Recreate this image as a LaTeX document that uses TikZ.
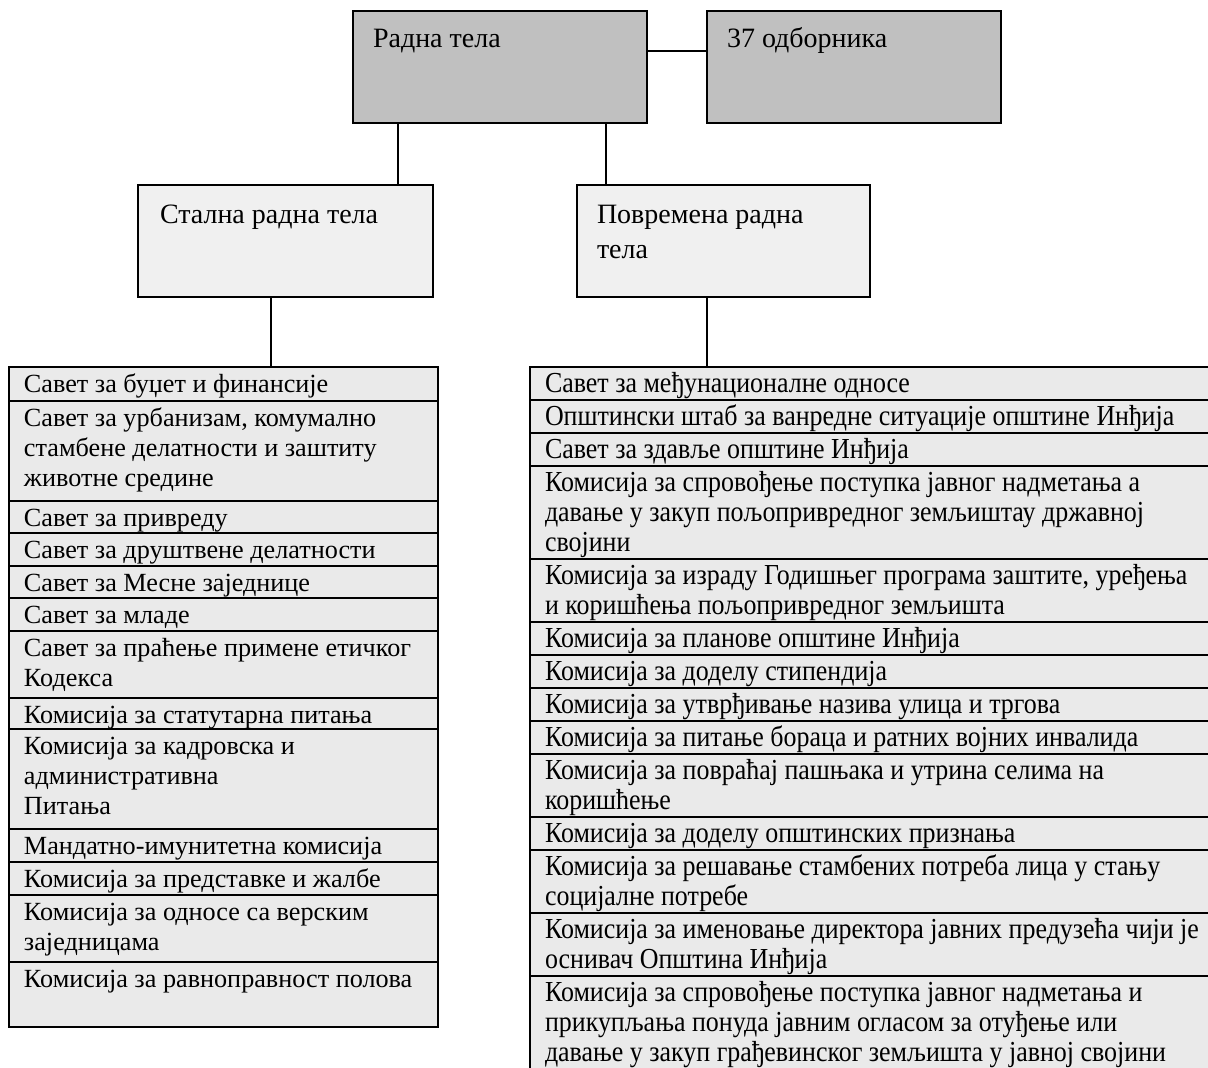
\documentclass[tikz,border=0pt]{standalone}
\usepackage{fontspec}
\setmainfont{Liberation Serif}
\newfontfamily\narrowserif[FakeStretch=0.895]{Liberation Serif}
\usepackage{xcolor}
\usepackage{tikz}
\usetikzlibrary{positioning}

\definecolor{topgray}{HTML}{C0C0C0}
\definecolor{midgray}{HTML}{F0F0F0}
\definecolor{rowgray}{HTML}{EAEAEA}

% text block of a cell: width, height, first baseline, text
\newcommand{\cellpar}[4]{\parbox[t][#2][t]{#1}{\raggedright\rule{0pt}{#3}#4}}
\newcommand{\lrow}[2]{\cellpar{199.5pt}{#1}{12.5pt}{#2}}
\newcommand{\rrow}[2]{\cellpar{400pt}{#1}{12.5pt}{#2}}

\tikzset{
  topbox/.style={draw, line width=0.8pt, fill=topgray, anchor=north west,
    inner xsep=10pt, inner ysep=0pt, outer sep=0pt,
    font=\fontsize{14}{17.5}\selectfont},
  midbox/.style={topbox, fill=midgray},
  listrow/.style={draw, line width=0.9pt, fill=rowgray, anchor=north west,
    inner xsep=7.5pt, inner ysep=0pt, outer sep=0pt,
    font=\fontsize{13.1}{15}\selectfont},
  rightrow/.style={listrow, font=\narrowserif\fontsize{14.5}{15}\selectfont},
  link/.style={line width=1.4pt},
}

\begin{document}
\begin{tikzpicture}[x=0.5pt, y=-0.5pt]
    \useasboundingbox (0,0) rectangle (1208,1067);

    % top level
    \node[topbox] (radna) at (353,11) {\cellpar{127pt}{56pt}{18pt}{Радна тела}};
    \node[topbox] (odbor) at (707,11) {\cellpar{127pt}{56pt}{18pt}{37 одборника}};
    \draw[link] ([yshift=-20pt]radna.north east) -- ([yshift=-20pt]odbor.north west);

    % two kinds of bodies
    \node[midbox, inner xsep=11pt] (stalna) at (138,185) {\cellpar{125.5pt}{56pt}{19pt}{Стална радна тела}};
    \node[midbox] (povremena) at (577,185) {\cellpar{126.5pt}{56pt}{19pt}{Повремена радна\\тела}};
    \draw[link] ([xshift=22.5pt]radna.south west) -- ([xshift=22.5pt]radna.south west |- stalna.north);
    \draw[link] ([xshift=-20.5pt]radna.south east) -- ([xshift=-20.5pt]radna.south east |- povremena.north);

    % left list
    \node[listrow] (l1) at (9,367) {\lrow{17pt}{Савет за буџет и финансије}};
    \node[listrow] (l2) at (l1.south west) {\lrow{50pt}{Савет за урбанизам, комумално\\стамбене делатности и заштиту\\животне средине}};
    \node[listrow] (l3) at (l2.south west) {\lrow{16pt}{Савет за привреду}};
    \node[listrow] (l4) at (l3.south west) {\lrow{16.5pt}{Савет за друштвене делатности}};
    \node[listrow] (l5) at (l4.south west) {\lrow{16pt}{Савет за Месне заједнице}};
    \node[listrow] (l6) at (l5.south west) {\lrow{16.5pt}{Савет за младе}};
    \node[listrow] (l7) at (l6.south west) {\lrow{33.5pt}{Савет за праћење примене етичког\\Кодекса}};
    \node[listrow] (l8) at (l7.south west) {\lrow{15.5pt}{Комисија за статутарна питања}};
    \node[listrow] (l9) at (l8.south west) {\lrow{50pt}{Комисија за кадровска и\\административна\\Питања}};
    \node[listrow] (l10) at (l9.south west) {\lrow{16.5pt}{Мандатно-имунитетна комисија}};
    \node[listrow] (l11) at (l10.south west) {\lrow{16.5pt}{Комисија за представке и жалбе}};
    \node[listrow] (l12) at (l11.south west) {\lrow{33.5pt}{Комисија за односе са верским\\заједницама}};
    \node[listrow] (l13) at (l12.south west) {\lrow{32.5pt}{Комисија за равноправност полова}};
    \draw[line width=1pt] ([xshift=66.5pt]stalna.south west) -- ([xshift=66.5pt]stalna.south west |- l1.north);

    % right list
    \node[rightrow] (r1) at (530,367) {\rrow{16.5pt}{Савет за међунационалне односе}};
    \node[rightrow] (r2) at (r1.south west) {\rrow{16.5pt}{Општински штаб за ванредне ситуације општине Инђија}};
    \node[rightrow] (r3) at (r2.south west) {\rrow{16.5pt}{Савет за здавље општине Инђија}};
    \node[rightrow] (r4) at (r3.south west) {\rrow{46.5pt}{Комисија за спровођење поступка јавног надметања а\\давање у закуп пољопривредног земљиштау државној\\својини}};
    \node[rightrow] (r5) at (r4.south west) {\rrow{31.5pt}{Комисија за израду Годишњег програма заштите, уређења\\и коришћења пољопривредног земљишта}};
    \node[rightrow] (r6) at (r5.south west) {\rrow{16.5pt}{Комисија за планове општине Инђија}};
    \node[rightrow] (r7) at (r6.south west) {\rrow{16.5pt}{Комисија за доделу стипендија}};
    \node[rightrow] (r8) at (r7.south west) {\rrow{16.5pt}{Комисија за утврђивање назива улица и тргова}};
    \node[rightrow] (r9) at (r8.south west) {\rrow{16.5pt}{Комисија за питање бораца и ратних војних инвалида}};
    \node[rightrow] (r10) at (r9.south west) {\rrow{31.5pt}{Комисија за повраћај пашњака и утрина селима на\\коришћење}};
    \node[rightrow] (r11) at (r10.south west) {\rrow{16.5pt}{Комисија за доделу општинских признања}};
    \node[rightrow] (r12) at (r11.south west) {\rrow{31.5pt}{Комисија за решавање стамбених потреба лица у стању\\социјалне потребе}};
    \node[rightrow] (r13) at (r12.south west) {\rrow{31.5pt}{Комисија за именовање директора јавних предузећа чији је\\оснивач Општина Инђија}};
    \node[rightrow] (r14) at (r13.south west) {\rrow{52pt}{Комисија за спровођење поступка јавног надметања и\\прикупљања понуда јавним огласом за отуђење или\\давање у закуп грађевинског земљишта у јавној својини}};
    \draw[link] ([xshift=65pt]povremena.south west) -- ([xshift=65pt]povremena.south west |- r1.north);

\end{tikzpicture}
\end{document}
